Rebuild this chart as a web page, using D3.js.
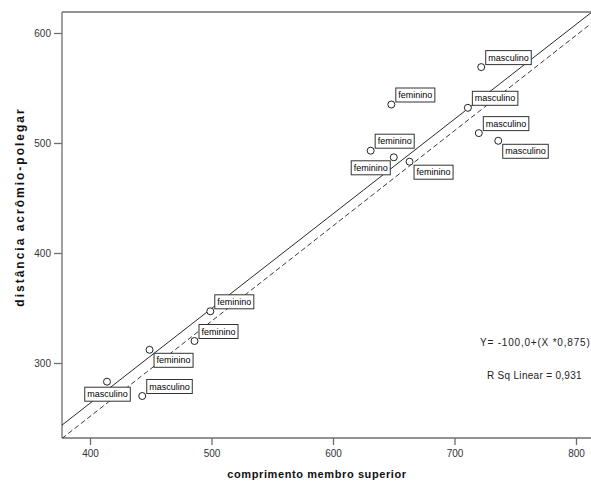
<!DOCTYPE html>
<html>
<head>
<meta charset="utf-8">
<script src="https://cdn.jsdelivr.net/npm/d3@7"></script>
<style>
  html, body { margin: 0; padding: 0; background: #fff; }
  svg { display: block; }
</style>
</head>
<body>
<div id="chart"></div>
<script>
// ---- data ----
const comprimento = [722, 648, 711, 720, 736, 631, 650, 663, 499, 486, 449, 414, 443];
const distancia   = [569, 535, 532, 509, 502, 493, 487, 483, 347, 320, 312, 283, 270];
const sexo = ["masculino", "feminino", "masculino", "masculino", "masculino", "feminino",
              "feminino", "feminino", "feminino", "feminino", "feminino", "masculino", "masculino"];
const labelPlacement = ["ur", "ur", "ur", "ur", "lr", "ur", "ll", "lr", "ur", "ur", "lr", "bc", "ur"];
const xTicks = [400, 500, 600, 700, 800];
const yTicks = [300, 400, 500, 600];
const solidLine  = [-81, 0.861];   // [intercept, slope]
const dashedLine = [-95, 0.866];
const equationText = "Y= -100,0+(X *0,875)";
const rsqText = "R Sq Linear = 0,931";
const xTitle = "comprimento membro superior";
const yTitle = "distância acrômio-polegar";

// ---- layout ----
const W = 591, H = 483;
const plot = { left: 62, top: 12, right: 600, bottom: 438 };

const svg = d3.select("#chart").append("svg").attr("width", W).attr("height", H)
  .style("font-family", "Arial, 'Liberation Sans', sans-serif");

const x = d3.scaleLinear().domain([400, 800]).range([90, 576]);
const y = d3.scaleLinear().domain([300, 600]).range([363, 33]);

svg.append("clipPath").attr("id", "clip").append("rect")
  .attr("x", plot.left).attr("y", plot.top)
  .attr("width", plot.right - plot.left).attr("height", plot.bottom - plot.top);

// frame (top border)
svg.append("line").attr("x1", plot.left).attr("x2", plot.right)
  .attr("y1", plot.top).attr("y2", plot.top)
  .attr("stroke", "#6e6e6e").attr("stroke-width", 1.3);

// axes
const xAxis = d3.axisBottom(x).tickValues(xTicks).tickSize(7).tickPadding(5).tickFormat(d3.format("d"));
const yAxis = d3.axisLeft(y).tickValues(yTicks).tickSize(8).tickPadding(3).tickFormat(d3.format("d"));

const gx = svg.append("g").attr("transform", `translate(0,${plot.bottom})`).call(xAxis);
const gy = svg.append("g").attr("transform", `translate(${plot.left},0)`).call(yAxis);
gx.select(".domain").attr("d", `M${plot.left},0H${plot.right}`);
gy.select(".domain").attr("d", `M0,${plot.top}V${plot.bottom}`);
[gx, gy].forEach(g => {
  g.selectAll(".domain, .tick line").attr("stroke", "#6e6e6e").attr("stroke-width", 1.3);
  g.selectAll(".tick text").attr("fill", "#333").style("font-size", "10px")
    .style("font-family", "Arial, 'Liberation Sans', sans-serif");
});

// regression lines
const xDom = [x.invert(plot.left), x.invert(plot.right)];
const lineGen = d3.line().x(d => x(d[0])).y(d => y(d[1]));
const lg = svg.append("g").attr("clip-path", "url(#clip)");
lg.append("path")
  .attr("d", lineGen(xDom.map(v => [v, solidLine[0] + solidLine[1] * v])))
  .attr("fill", "none").attr("stroke", "#111").attr("stroke-width", 0.9);
lg.append("path")
  .attr("d", lineGen(xDom.map(v => [v, dashedLine[0] + dashedLine[1] * v])))
  .attr("fill", "none").attr("stroke", "#222").attr("stroke-width", 0.9)
  .attr("stroke-dasharray", "5,3");

// points
const pts = comprimento.map((c, i) => ({ c, d: distancia[i], s: sexo[i], p: labelPlacement[i] }));
svg.append("g").selectAll("circle").data(pts).join("circle")
  .attr("cx", d => x(d.c)).attr("cy", d => y(d.d)).attr("r", 3.5)
  .attr("fill", "#fff").attr("stroke", "#222").attr("stroke-width", 1);

// labels
const lab = svg.append("g");
pts.forEach(d => {
  const px = x(d.c), py = y(d.d);
  const g = lab.append("g");
  const t = g.append("text").text(d.s).style("font-size", "9px").attr("fill", "#000");
  const tw = t.node().getComputedTextLength();
  const bw = tw + 5, bh = 14;
  let bx, by;
  if (d.p === "ur") { bx = px + 4; by = py - 17; }
  else if (d.p === "lr") { bx = px + 4; by = py + 3; }
  else if (d.p === "ll") { bx = px - 4 - bw; by = py + 3; }
  else { bx = px - bw / 2; by = py + 5; }
  g.insert("rect", "text").attr("x", bx + 0.5).attr("y", by + 0.5)
    .attr("width", bw).attr("height", bh)
    .attr("fill", "#fff").attr("stroke", "#333").attr("stroke-width", 1);
  t.attr("x", bx + 3).attr("y", by + 10.5);
});

// annotations
svg.append("text").attr("x", 480).attr("y", 346).text(equationText)
  .style("font-size", "10px").style("letter-spacing", "0.8px").attr("fill", "#222");
svg.append("text").attr("x", 487).attr("y", 379).text(rsqText)
  .style("font-size", "10px").style("letter-spacing", "0.3px").attr("fill", "#222");

// axis titles
svg.append("text").attr("x", 317).attr("y", 478).attr("text-anchor", "middle")
  .text(xTitle).style("font-size", "11px").style("font-weight", "bold")
  .style("letter-spacing", "0.6px").attr("fill", "#111");
svg.append("text").attr("transform", "translate(23.5,207) rotate(-90)").attr("text-anchor", "middle")
  .text(yTitle).style("font-size", "12px").style("font-weight", "bold")
  .style("letter-spacing", "2px").attr("fill", "#111");
</script>
</body>
</html>
